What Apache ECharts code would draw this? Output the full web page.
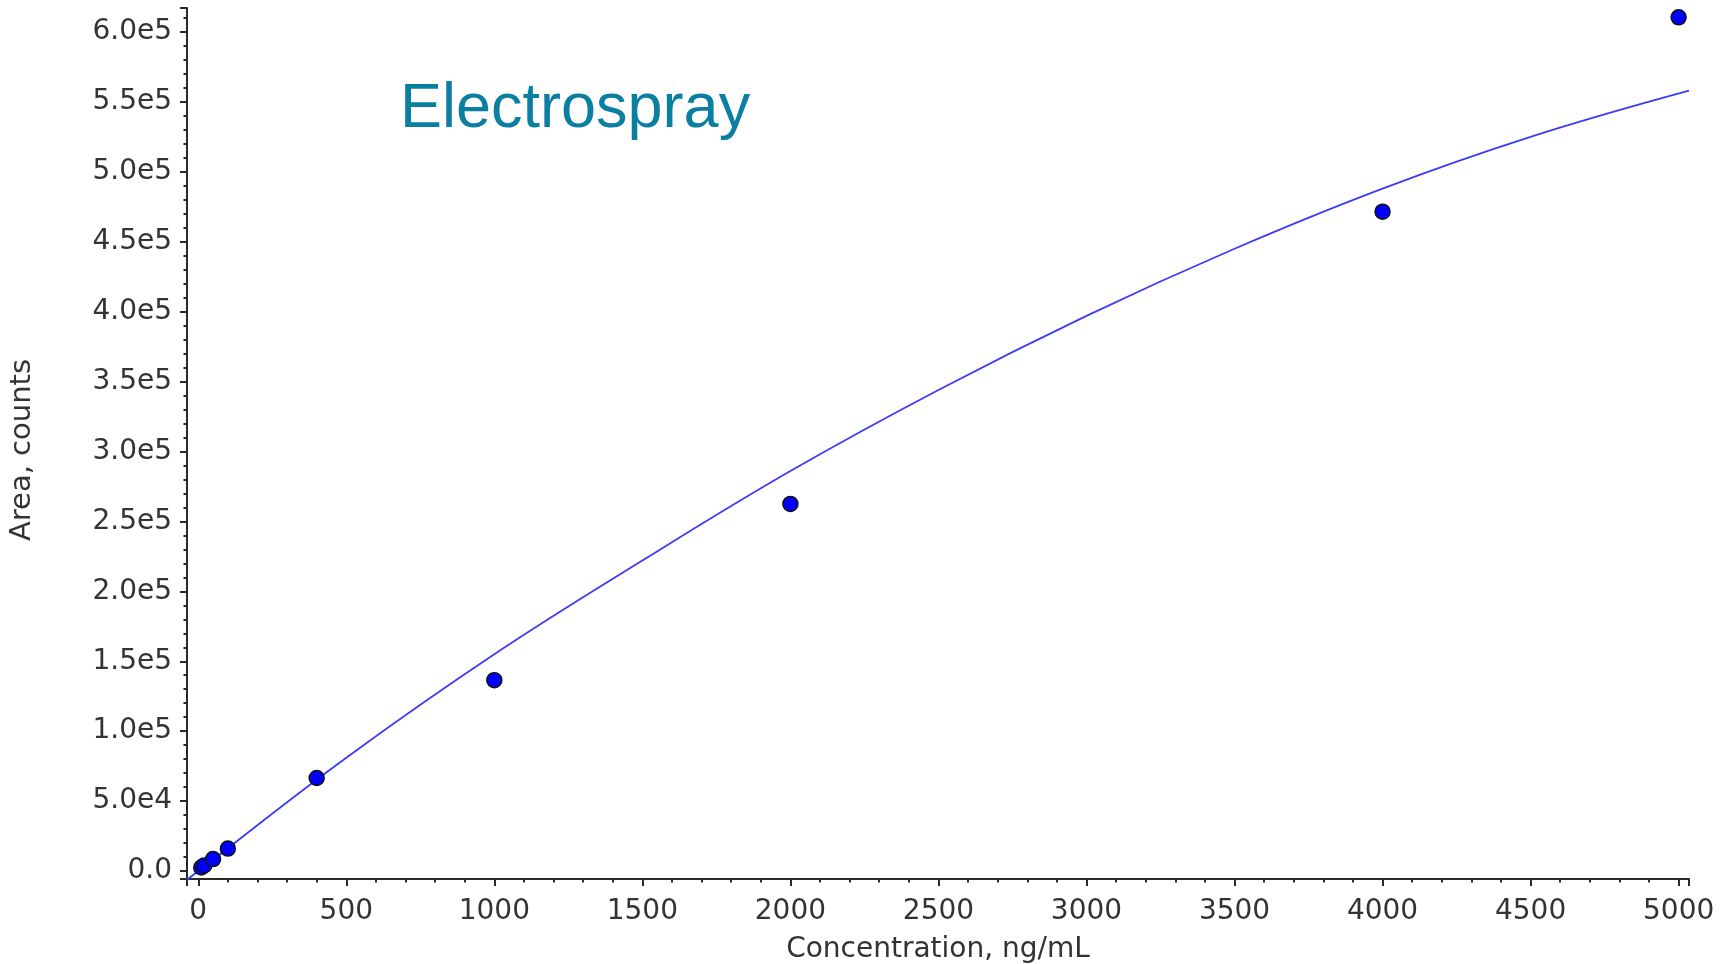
<!DOCTYPE html>
<html>
<head>
<meta charset="utf-8">
<script src="https://cdn.jsdelivr.net/npm/echarts@6/dist/echarts.min.js"></script>
<style>
html,body{margin:0;padding:0;background:#fff;}
#chart{width:1731px;height:964px;}
</style>
</head>
<body>
<div id="chart"></div>
<script>
// Calibration standards (ng/mL) and measured peak areas (counts)
const stdConc = [10, 20, 50, 100, 400, 1000, 2000, 4000, 5000];
const stdArea = [2500, 4000, 8500, 16000, 66500, 136500, 262500, 471500, 610500];

// Calibration fit curve
const fitConc = [-38, 0, 500, 1000, 1500, 2000, 2500, 3000, 3500, 4000, 4500, 5035];
const fitArea = [-6300, 0, 81000, 155000, 222000, 286000, 344000, 397000, 445000, 488000, 525000, 558000];

// Tick labels
const yTickValues = [0, 50000, 100000, 150000, 200000, 250000, 300000, 350000, 400000, 450000, 500000, 550000, 600000];
const yTickLabels = ['0.0', '5.0e4', '1.0e5', '1.5e5', '2.0e5', '2.5e5', '3.0e5', '3.5e5', '4.0e5', '4.5e5', '5.0e5', '5.5e5', '6.0e5'];
const xTickValues = [0, 500, 1000, 1500, 2000, 2500, 3000, 3500, 4000, 4500, 5000];
const xTickLabels = ['0', '500', '1000', '1500', '2000', '2500', '3000', '3500', '4000', '4500', '5000'];

const titleText = 'Electrospray';
const xName = 'Concentration, ng/mL';
const yName = 'Area, counts';

function lookup(vals, labels, v) {
  for (let i = 0; i < vals.length; i++) {
    if (Math.abs(vals[i] - v) < 1e-6 * Math.max(1, Math.abs(v))) return labels[i];
  }
  return '';
}

const axisColor = '#2a2a2a';
const font = 'DejaVu Sans';

const chart = echarts.init(document.getElementById('chart'), null, {renderer: 'canvas'});
chart.setOption({
  backgroundColor: '#ffffff',
  animation: false,
  title: {
    text: titleText,
    left: 395,
    top: 73,
    textStyle: {fontFamily: 'Liberation Sans', fontSize: 63, fontWeight: 'normal', color: '#0b7fa2'}
  },
  grid: {left: 187, top: 8, right: 42, bottom: 85, containLabel: false, outerBoundsMode: 'none'},
  xAxis: {
    type: 'value',
    min: -38,
    max: 5035,
    splitNumber: 10,
    name: xName,
    nameLocation: 'middle',
    nameGap: 57,
    nameTextStyle: {fontFamily: font, fontSize: 28, color: '#333'},
    axisLine: {show: true, onZero: false, lineStyle: {color: axisColor, width: 2}},
    axisTick: {show: true, length: 7, lineStyle: {color: axisColor, width: 2}},
    minorTick: {show: true, splitNumber: 5, length: 3.5, lineStyle: {color: axisColor, width: 2}},
    splitLine: {show: false},
    minorSplitLine: {show: false},
    axisLabel: {
      margin: 19,
      fontFamily: font, fontSize: 28, color: '#333',
      formatter: v => lookup(xTickValues, xTickLabels, v)
    }
  },
  yAxis: {
    type: 'value',
    min: -5723,
    max: 617170,
    splitNumber: 12,
    name: yName,
    nameLocation: 'middle',
    nameGap: 150,
    nameTextStyle: {fontFamily: font, fontSize: 29, color: '#333', padding: [0, 13, 0, 0]},
    axisLine: {show: true, onZero: false, lineStyle: {color: axisColor, width: 2}},
    axisTick: {show: true, length: 7, lineStyle: {color: axisColor, width: 2}},
    minorTick: {show: true, splitNumber: 5, length: 3.5, lineStyle: {color: axisColor, width: 2}},
    splitLine: {show: false},
    minorSplitLine: {show: false},
    axisLabel: {
      margin: 15,
      padding: [4, 0, 0, 0],
      fontFamily: font, fontSize: 28, color: '#333',
      formatter: v => lookup(yTickValues, yTickLabels, v)
    }
  },
  series: [
    {
      type: 'line',
      data: fitConc.map((c, i) => [c, fitArea[i]]),
      showSymbol: false,
      smooth: 0.4,
      clip: true,
      lineStyle: {color: '#3c3cf8', width: 1.8},
      z: 2,
      silent: true
    },
    {
      type: 'scatter',
      data: stdConc.map((c, i) => [c, stdArea[i]]),
      symbol: 'circle',
      symbolSize: 15,
      itemStyle: {color: '#0000ff', borderColor: '#111', borderWidth: 1.5, opacity: 1},
      z: 3,
      silent: true
    }
  ]
});
</script>
</body>
</html>
